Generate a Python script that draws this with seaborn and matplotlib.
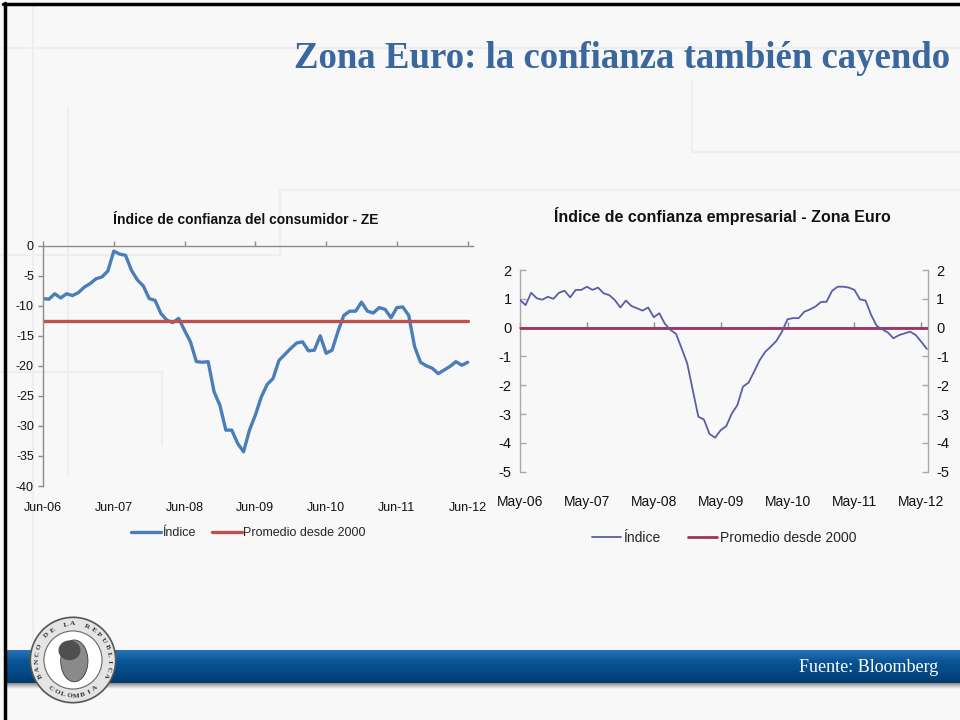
import numpy as np
import pandas as pd
import matplotlib
matplotlib.use("Agg")
import matplotlib.pyplot as plt
import seaborn as sns
from matplotlib.patches import Circle, Ellipse
from matplotlib.lines import Line2D

# ---------------- data ----------------
cons_labels = ["Jun-06", "Jun-07", "Jun-08", "Jun-09", "Jun-10", "Jun-11", "Jun-12"]
cons_values = [-8.8, -8.9, -8.0, -8.7, -8.0, -8.3, -7.8, -6.9, -6.3, -5.5,
               -5.2, -4.2, -0.9, -1.4, -1.6, -4.1, -5.7, -6.7, -8.8, -9.1,
               -11.3, -12.4, -12.8, -12.1, -14.1, -16.0, -19.3, -19.4, -19.3, -24.3,
               -26.6, -30.7, -30.7, -32.9, -34.3, -30.7, -28.2, -25.2, -23.1, -22.1,
               -19.1, -18.1, -17.1, -16.2, -16.0, -17.5, -17.4, -15.0, -17.9, -17.4,
               -14.3, -11.6, -10.9, -10.9, -9.4, -10.9, -11.2, -10.3, -10.6, -12.0,
               -10.3, -10.2, -11.6, -16.8, -19.4, -20.0, -20.4, -21.3, -20.7, -20.1,
               -19.3, -19.9, -19.4]
cons_avg = -12.6

emp_labels = ["May-06", "May-07", "May-08", "May-09", "May-10", "May-11", "May-12"]
emp_values = [0.96, 0.78, 1.21, 1.02, 0.97, 1.07, 1.00, 1.21, 1.28, 1.05,
              1.31, 1.31, 1.42, 1.31, 1.39, 1.19, 1.13, 0.96, 0.70, 0.94,
              0.75, 0.67, 0.59, 0.70, 0.36, 0.50, 0.13, -0.08, -0.22, -0.72,
              -1.24, -2.17, -3.09, -3.19, -3.69, -3.82, -3.56, -3.42, -2.98, -2.69,
              -2.05, -1.91, -1.53, -1.13, -0.84, -0.66, -0.46, -0.14, 0.29, 0.33,
              0.33, 0.55, 0.63, 0.73, 0.89, 0.90, 1.28, 1.42, 1.42, 1.39,
              1.31, 0.98, 0.94, 0.44, 0.06, -0.06, -0.17, -0.37, -0.26, -0.20,
              -0.14, -0.26, -0.49, -0.74]
emp_avg = 0.0

legend_labels = ["Índice", "Promedio desde 2000"]
title_main = "Zona Euro: la confianza también cayendo"
title_left = "Índice de confianza del consumidor - ZE"
title_right = "Índice de confianza empresarial - Zona Euro"
source_text = "Fuente: Bloomberg"

# ---------------- style ----------------
sns.set_theme(style="white")
plt.rcParams["font.family"] = ["Liberation Sans", "DejaVu Sans"]
plt.rcParams["axes.unicode_minus"] = False

W, H = 960, 720
fig = plt.figure(figsize=(9.6, 7.2), dpi=100)
BG = "#F8F8F8"
fig.patch.set_facecolor(BG)

def px_rect(x0, y0, x1, y1):
    return [x0 / W, 1 - y1 / H, (x1 - x0) / W, (y1 - y0) / H]

# faint background panels
faint = "#EEEEEE"
for (xa, ya, xb, yb) in [(33, 5, 33, 640), (68, 108, 68, 475), (0, 48, 960, 48),
                          (692, 80, 692, 152), (692, 152, 960, 152), (280, 190, 960, 190),
                          (0, 255, 280, 255), (280, 190, 280, 255), (0, 372, 162, 372),
                          (162, 372, 162, 445)]:
    fig.add_artist(Line2D([xa / W, xb / W], [1 - ya / H, 1 - yb / H], color=faint, lw=1.5, zorder=0))

# ---------------- left chart ----------------
GRAY = "#8C8C8C"
axL = fig.add_axes(px_rect(43, 245.7, 473, 486))
axL.set_facecolor("none")
idxL = np.arange(len(cons_values))
dfL = pd.DataFrame({"m": idxL, "v": cons_values, "a": np.full(len(idxL), cons_avg)})
sns.lineplot(data=dfL, x="m", y="v", ax=axL, color="#4A7EBB", lw=2.4, label=legend_labels[0])
sns.lineplot(data=dfL, x="m", y="a", ax=axL, color="#C0504D", lw=2.4, label=legend_labels[1])
axL.set_xlim(0, 72.9)
axL.set_ylim(-40, 0)
axL.set_xticks(np.arange(0, len(cons_values), 12))
axL.set_xticklabels(cons_labels)
axL.set_yticks(np.arange(-40, 1, 5))
axL.set_xlabel("")
axL.set_ylabel("")
for s in ["bottom", "right"]:
    axL.spines[s].set_visible(False)
for s in ["left", "top"]:
    axL.spines[s].set_color(GRAY)
    axL.spines[s].set_linewidth(1.0)
axL.tick_params(axis="y", left=True, direction="out", length=3.5, width=1, color=GRAY,
                labelsize=9, pad=3, labelcolor="#111111")
axL.tick_params(axis="x", top=True, bottom=False, labeltop=False, labelbottom=True,
                direction="out", length=3.5, width=1, color=GRAY, labelsize=9, pad=8,
                labelcolor="#111111")
axL.legend(loc="center", bbox_to_anchor=(248 / W, 1 - 533 / H), bbox_transform=fig.transFigure,
           ncol=2, frameon=False, fontsize=9, handlelength=2.4, handletextpad=0.1,
           columnspacing=1.3, borderaxespad=0)
fig.text(246 / W, 1 - 220 / H, title_left, ha="center", va="center", fontsize=10,
         fontweight="bold", color="#111111")

# ---------------- right chart ----------------
axR = fig.add_axes(px_rect(520, 270, 928, 471.7))
axR.set_facecolor("none")
idxR = np.arange(len(emp_values))
dfR = pd.DataFrame({"m": idxR, "v": emp_values, "a": np.full(len(idxR), emp_avg)})
sns.lineplot(data=dfR, x="m", y="a", ax=axR, color="#A3305F", lw=2.0, label=legend_labels[1], zorder=3)
sns.lineplot(data=dfR, x="m", y="v", ax=axR, color="#5A5EA6", lw=1.3, label=legend_labels[0], zorder=4)
axR.set_xlim(0, 73.2)
axR.set_ylim(-5, 2)
axR.set_xticks(np.arange(0, len(emp_values), 12))
axR.set_xticklabels(emp_labels)
axR.set_yticks(np.arange(-5, 3, 1))
axR.set_xlabel("")
axR.set_ylabel("")
axR.spines["bottom"].set_visible(False)
axR.spines["top"].set_position(("data", 0))
axR.spines["top"].set_color(GRAY)
axR.spines["top"].set_zorder(1)
for s in ["left", "right"]:
    axR.spines[s].set_color("#A8A8A8")
    axR.spines[s].set_linewidth(1.0)
axR.tick_params(axis="y", left=True, right=True, labelleft=True, labelright=True,
                direction="in", length=4, width=1, color="#A8A8A8", labelsize=10.5, pad=6,
                labelcolor="#111111")
axR.tick_params(axis="x", top=True, bottom=False, labeltop=False, labelbottom=True,
                direction="out", length=4, width=1, color=GRAY, labelsize=10, pad=13,
                labelcolor="#111111")
hR, lR = axR.get_legend_handles_labels()
axR.legend(hR[::-1], lR[::-1], loc="center", bbox_to_anchor=(724 / W, 1 - 538 / H),
           bbox_transform=fig.transFigure, ncol=2, frameon=False, fontsize=10,
           handlelength=2.1, handletextpad=0.15, columnspacing=2.0, borderaxespad=0)
fig.text(722 / W, 1 - 216 / H, title_right, ha="center", va="center", fontsize=11.5,
         fontweight="bold", color="#111111")

# ---------------- main title ----------------
fig.text(622 / W, 1 - 58 / H, title_main, ha="center", va="center", fontsize=26.5,
         fontweight="bold", color="#3A679E", family=["Liberation Serif", "DejaVu Serif"])

# ---------------- footer band ----------------
band = fig.add_axes(px_rect(7, 650, 960, 683))
grad = np.linspace(0, 1, 64).reshape(-1, 1)
band.imshow(grad, aspect="auto", cmap=matplotlib.colors.LinearSegmentedColormap.from_list(
    "b", ["#2A74B6", "#0A5597", "#044A86", "#003B6E"]), extent=[0, 1, 0, 1])
band.set_axis_off()
shadow = fig.add_axes(px_rect(7, 683, 960, 689))
sgrad = np.linspace(0, 1, 16).reshape(-1, 1)
shadow.imshow(sgrad, aspect="auto", cmap=matplotlib.colors.LinearSegmentedColormap.from_list(
    "s", ["#8E8E8E", BG]), extent=[0, 1, 0, 1])
shadow.set_axis_off()
fig.text(938 / W, 1 - 667 / H, source_text, ha="right", va="center", fontsize=13,
         color="white", family=["Liberation Serif", "DejaVu Serif"])

# ---------------- logo ----------------
lg = fig.add_axes(px_rect(29, 616, 117, 704))
lg.set_xlim(-1, 1)
lg.set_ylim(-1, 1)
lg.set_aspect("equal")
lg.set_axis_off()
lg.add_patch(Circle((0, 0), 0.97, facecolor="#E4E4E4", edgecolor="#555555", lw=1.2))
lg.add_patch(Circle((0, 0), 0.66, facecolor="white", edgecolor="#666666", lw=0.8))
lg.add_patch(Ellipse((0.03, -0.02), 0.62, 0.95, facecolor="#8A8A8A", edgecolor="#3A3A3A", lw=0.6))
lg.add_patch(Ellipse((-0.08, 0.22), 0.5, 0.45, facecolor="#4F4F4F", edgecolor="none"))
top_txt = "BANCO DE LA REPUBLICA"
angs = np.linspace(205, -25, len(top_txt))
for ch, a in zip(top_txt, angs):
    r = 0.82
    lg.text(r * np.cos(np.radians(a)), r * np.sin(np.radians(a)), ch, rotation=a - 90,
            ha="center", va="center", fontsize=5.2, fontweight="bold", color="#333333",
            family=["Liberation Serif", "DejaVu Serif"])
bot_txt = "COLOMBIA"
angs2 = np.linspace(232, 308, len(bot_txt))
for ch, a in zip(bot_txt, angs2):
    r = 0.82
    lg.text(r * np.cos(np.radians(a)), r * np.sin(np.radians(a)), ch, rotation=a + 90,
            ha="center", va="center", fontsize=5.2, fontweight="bold", color="#333333",
            family=["Liberation Serif", "DejaVu Serif"])

# ---------------- slide border ----------------
fig.add_artist(Line2D([4.5 / W, 4.5 / W], [0, 1 - 3 / H], color="black", lw=2.5, zorder=10))
fig.add_artist(Line2D([3 / W, 1], [1 - 3.5 / H, 1 - 3.5 / H], color="black", lw=2.5, zorder=10))

fig.savefig("out.png", dpi=100, facecolor=BG)
